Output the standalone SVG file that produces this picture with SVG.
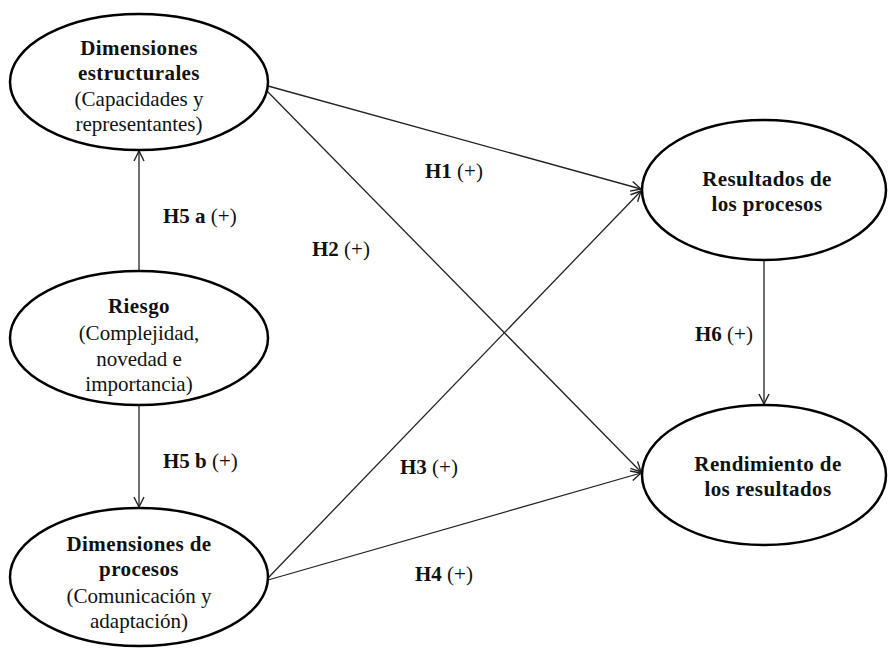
<svg xmlns="http://www.w3.org/2000/svg" width="888" height="651" viewBox="0 0 888 651">
<style>
.node ellipse{fill:#fff;stroke:#000;stroke-width:2.5}
.t{font-family:'Liberation Serif','Times New Roman',Times,serif;font-size:21px;fill:#111;text-anchor:middle}
.b{font-weight:bold;letter-spacing:0.4px}
.lbl{font-family:'Liberation Serif','Times New Roman',Times,serif;font-size:21px;fill:#111}
.conn line{stroke:#222;stroke-width:1.3;fill:none;marker-end:url(#ah)}
</style>
<defs>
<marker id="ah" viewBox="0 0 12 12" refX="11" refY="6" markerWidth="12" markerHeight="12" markerUnits="userSpaceOnUse" orient="auto">
<path d="M1,1 L11,6 L1,11" fill="none" stroke="#222" stroke-width="1.4"/>
</marker>
</defs>
<g id="connectors" class="conn">
<line x1="268" y1="86" x2="641" y2="189"/>
<line x1="267" y1="91" x2="641" y2="472"/>
<line x1="268" y1="578" x2="641" y2="191"/>
<line x1="268" y1="580" x2="641" y2="473"/>
<line x1="139" y1="270" x2="139" y2="151"/>
<line x1="139" y1="405" x2="139" y2="507"/>
<line x1="764" y1="260" x2="764" y2="404"/>
</g>
<g id="n_estructurales" class="node">
<ellipse cx="139" cy="82" rx="129" ry="68"/>
<text class="t b" x="139" y="55">Dimensiones</text>
<text class="t b" x="139" y="80">estructurales</text>
<text class="t" x="139" y="106">(Capacidades y</text>
<text class="t" x="139" y="131">representantes)</text>
</g>
<g id="n_riesgo" class="node">
<ellipse cx="139" cy="338" rx="129" ry="67"/>
<text class="t b" x="139" y="313">Riesgo</text>
<text class="t" x="139" y="340">(Complejidad,</text>
<text class="t" x="139" y="366">novedad e</text>
<text class="t" x="139" y="391">importancia)</text>
</g>
<g id="n_procesos" class="node">
<ellipse cx="139" cy="577" rx="129" ry="69"/>
<text class="t b" x="139" y="551">Dimensiones de</text>
<text class="t b" x="139" y="576">procesos</text>
<text class="t" x="139" y="603">(Comunicación y</text>
<text class="t" x="139" y="628">adaptación)</text>
</g>
<g id="n_resultados" class="node">
<ellipse cx="764" cy="190" rx="122" ry="70"/>
<text class="t b" x="767" y="186">Resultados de</text>
<text class="t b" x="767" y="211">los procesos</text>
</g>
<g id="n_rendimiento" class="node">
<ellipse cx="764" cy="475" rx="122" ry="70"/>
<text class="t b" x="768" y="471">Rendimiento de</text>
<text class="t b" x="768" y="496">los resultados</text>
</g>
<g id="labels">
<text class="lbl" x="425" y="178"><tspan font-weight="bold">H1</tspan> (+)</text>
<text class="lbl" x="163" y="223"><tspan font-weight="bold">H5 a</tspan> (+)</text>
<text class="lbl" x="312" y="256"><tspan font-weight="bold">H2</tspan> (+)</text>
<text class="lbl" x="695" y="341"><tspan font-weight="bold">H6</tspan> (+)</text>
<text class="lbl" x="163" y="468"><tspan font-weight="bold">H5 b</tspan> (+)</text>
<text class="lbl" x="400" y="474"><tspan font-weight="bold">H3</tspan> (+)</text>
<text class="lbl" x="415" y="581"><tspan font-weight="bold">H4</tspan> (+)</text>
</g>
</svg>
